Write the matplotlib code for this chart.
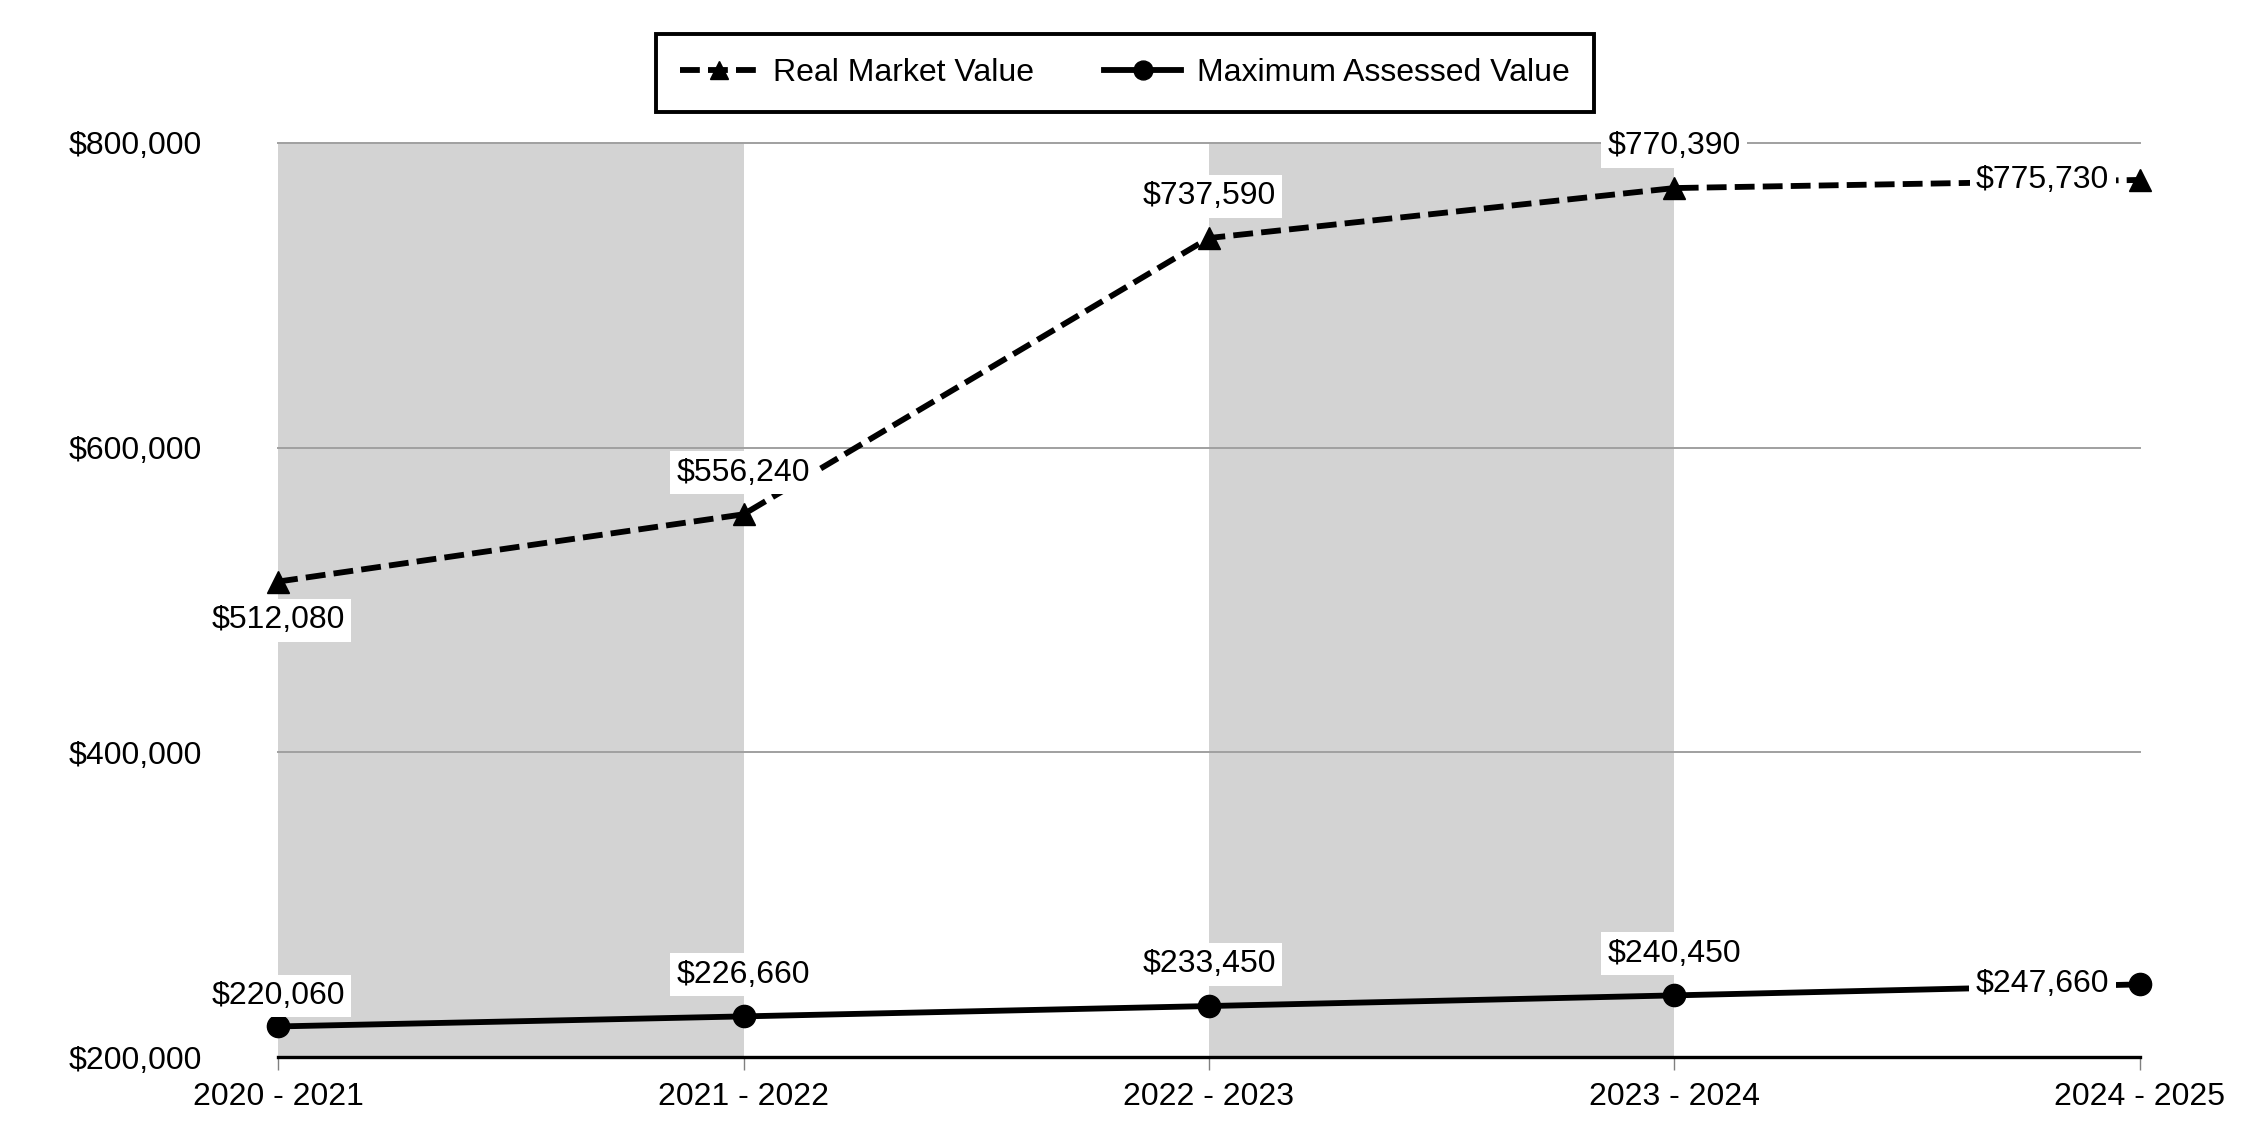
import matplotlib.pyplot as plt
from matplotlib.ticker import FuncFormatter

plt.rcParams["font.family"] = ["Liberation Sans", "DejaVu Sans"]

# data
years = ["2020 - 2021", "2021 - 2022", "2022 - 2023", "2023 - 2024", "2024 - 2025"]
real_market = [512080, 556240, 737590, 770390, 775730]
max_assessed = [220060, 226660, 233450, 240450, 247660]
y_ticks = [200000, 400000, 600000, 800000]

FS = 23

fig = plt.figure(figsize=(22.5, 11.4), dpi=100)
ax = fig.add_axes([0.1236, 0.0728, 0.951 - 0.1236, 0.8746 - 0.0728])

x = list(range(len(years)))

# alternating grey bands
for i in range(0, len(years) - 1, 2):
    ax.axvspan(x[i], x[i + 1], color="#d3d3d3", lw=0, zorder=0)

for yv in y_ticks[1:]:
    ax.axhline(yv, color="#a0a0a0", lw=1.4, zorder=1, clip_on=False)

l1, = ax.plot(x, real_market, color="black", lw=4.2, ls=(0, (3.4, 1.4)),
              marker="^", markersize=16, zorder=3, clip_on=False,
              label="Real Market Value")
l2, = ax.plot(x, max_assessed, color="black", lw=4.2, marker="o",
              markersize=16, zorder=3, clip_on=False,
              label="Maximum Assessed Value")

box = dict(boxstyle="square,pad=0.2", fc="white", ec="none")


def label(xi, v, dx, dy, ha, va):
    ax.annotate(f"${v:,.0f}", (xi, v), xytext=(dx, dy), textcoords="offset points",
                ha=ha, va=va, fontsize=FS, bbox=box, zorder=5, annotation_clip=False)


last = len(years) - 1
for i, v in enumerate(real_market):
    if i == last:
        label(i, v, -22, 0, "right", "center")
    elif i == 0:
        label(i, v, 0, -28, "center", "center")
    else:
        label(i, v, 0, 30, "center", "center")

for i, v in enumerate(max_assessed):
    if i == last:
        label(i, v, -22, 0, "right", "center")
    elif i == 0:
        label(i, v, 0, 22, "center", "center")
    else:
        label(i, v, 0, 30, "center", "center")

ax.set_xlim(0, last)
ax.set_ylim(200000, 800000)
ax.set_xticks(x)
ax.set_xticklabels(years, fontsize=FS)
ax.set_yticks(y_ticks)
ax.yaxis.set_major_formatter(FuncFormatter(lambda v, p: f"${v:,.0f}"))
ax.tick_params(axis="y", length=0, pad=55, labelsize=FS)
ax.tick_params(axis="x", length=9, width=1, color="#808080", pad=9)

for s in ["left", "right", "top"]:
    ax.spines[s].set_visible(False)
ax.spines["bottom"].set_linewidth(2.4)
ax.spines["bottom"].set_zorder(4)

leg = fig.legend(handles=[l1, l2], loc="upper center", bbox_to_anchor=(0.5, 0.97),
                 ncol=2, fontsize=FS, frameon=True, fancybox=False, framealpha=1,
                 handlelength=2.4, handletextpad=0.5, columnspacing=2.2,
                 borderpad=0.75, borderaxespad=0, markerscale=0.85)
leg.get_frame().set_edgecolor("black")
leg.get_frame().set_linewidth(2.8)

fig.savefig("out.png", dpi=100)
